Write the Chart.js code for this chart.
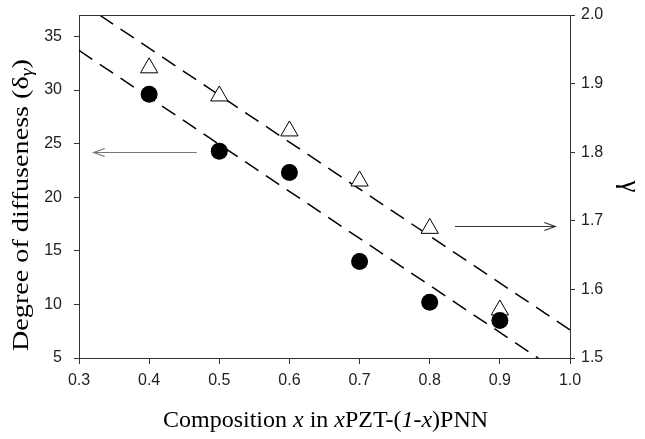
<!DOCTYPE html>
<html>
<head>
<meta charset="utf-8">
<script src="https://cdn.jsdelivr.net/npm/chart.js@4.4.0/dist/chart.umd.min.js"></script>
<style>
  html, body { margin: 0; padding: 0; background: #fff; }
  #wrap { width: 645px; height: 439px; }
</style>
</head>
<body>
<div id="wrap"><canvas id="diffChart"></canvas></div>
<script>
// composition x
const compX = [0.4, 0.5, 0.6, 0.7, 0.8, 0.9];
// degree of diffuseness (left axis)
const deltaGamma = [29.6, 24.3, 22.3, 14.0, 10.2, 8.5];
// gamma (right axis)
const gammaVals = [1.923, 1.882, 1.831, 1.758, 1.689, 1.570];

// dashed fit lines, read at the edges of the plot
const fitX = [0.3, 1.0];
const fitDelta = [33.7, 3.0];
const fitGamma = [2.02, 1.541];

const xTicks = [0.3, 0.4, 0.5, 0.6, 0.7, 0.8, 0.9, 1.0];
const leftTicks = [5, 10, 15, 20, 25, 30, 35];
const rightTicks = [1.5, 1.6, 1.7, 1.8, 1.9, 2.0];

// arrows (data units): [x from, x to, y, axis]
const arrowLeft = [0.468, 0.321, 24.25, 'yL'];
const arrowRight = [0.836, 0.979, 1.692, 'yR'];

const tickFont = { family: 'Liberation Sans, Arial, sans-serif', size: 16 };
const serif = 'Liberation Serif, Times New Roman, serif';

const toPts = (xs, ys) => xs.map((x, i) => ({ x: x, y: ys[i] }));

// fix the box sizes so the plot area sits where it does in the figure
const fixBox = (w, h) => s => {
    if (w !== null) s.width = w;
    if (h !== null) s.height = h;
    s.paddingTop = 0;
    s.paddingBottom = 0;
    s.paddingLeft = 0;
    s.paddingRight = 0;
};

// draws text made of [text, font, baseline shift] parts, centred on cx
function drawParts(ctx, parts, cx, y, stretchTo) {
    let total = 0;
    parts.forEach(p => {
        ctx.font = p[1];
        total += ctx.measureText(p[0]).width;
    });
    const sx = stretchTo ? stretchTo / total : 1;
    ctx.save();
    ctx.translate(cx, y);
    ctx.scale(sx, 1);
    let x = -total / 2;
    parts.forEach(p => {
        ctx.font = p[1];
        ctx.fillText(p[0], x, p[2]);
        x += ctx.measureText(p[0]).width;
    });
    ctx.restore();
}

const framePlugin = {
    id: 'frame',
    afterDatasetsDraw(chart) {
        const { ctx, chartArea: a, scales } = chart;
        ctx.save();
        ctx.strokeStyle = '#333';
        ctx.lineWidth = 1;
        ctx.beginPath();
        ctx.moveTo(a.left, a.top + 0.5);
        ctx.lineTo(a.right, a.top + 0.5);
        ctx.stroke();

        // arrows
        const drawArrow = (arr, color) => {
            const ys = scales[arr[3]];
            const x1 = scales.x.getPixelForValue(arr[0]);
            const x2 = scales.x.getPixelForValue(arr[1]);
            const y = Math.round(ys.getPixelForValue(arr[2])) + 0.5;
            const dir = x2 > x1 ? -1 : 1;
            ctx.strokeStyle = color;
            ctx.lineWidth = 1.2;
            ctx.beginPath();
            ctx.moveTo(x1, y);
            ctx.lineTo(x2, y);
            ctx.moveTo(x2 + dir * 11, y - 4);
            ctx.lineTo(x2, y);
            ctx.lineTo(x2 + dir * 11, y + 4);
            ctx.stroke();
        };
        drawArrow(arrowLeft, '#777');
        drawArrow(arrowRight, '#333');

        ctx.fillStyle = '#000';
        ctx.textBaseline = 'alphabetic';
        const up = '24px ' + serif;
        const it = 'italic 24px ' + serif;

        // x axis title with italic parts
        drawParts(ctx, [
            ['Composition ', up, 0], ['x', it, 0], [' in ', up, 0], ['x', it, 0],
            ['PZT-(', up, 0], ['1-x', it, 0], [')PNN', up, 0]
        ], (a.left + a.right) / 2 + 1, 427);

        // y axis title, rotated, with subscript gamma
        ctx.save();
        ctx.translate(28, 0);
        ctx.rotate(-Math.PI / 2);
        drawParts(ctx, [
            ['Degree of diffuseness (δ', up, 0],
            ['γ', 'italic 17px ' + serif, 4],
            [')', up, 0]
        ], -205, 0, 292);
        ctx.restore();

        ctx.restore();
    }
};

const ctx = document.getElementById('diffChart').getContext('2d');
new Chart(ctx, {
    type: 'scatter',
    data: {
        datasets: [
            {
                label: 'fit delta',
                data: toPts(fitX, fitDelta),
                yAxisID: 'yL',
                showLine: true,
                borderColor: '#000',
                borderWidth: 1.5,
                borderDash: [16, 9],
                pointRadius: 0,
                order: 3
            },
            {
                label: 'fit gamma',
                data: toPts(fitX, fitGamma),
                yAxisID: 'yR',
                showLine: true,
                borderColor: '#000',
                borderWidth: 1.5,
                borderDash: [16, 9],
                pointRadius: 0,
                order: 3
            },
            {
                label: 'delta gamma',
                data: toPts(compX, deltaGamma),
                yAxisID: 'yL',
                pointStyle: 'circle',
                pointRadius: 8.5,
                backgroundColor: '#000',
                borderColor: '#000',
                borderWidth: 0,
                order: 1
            },
            {
                label: 'gamma',
                data: toPts(compX, gammaVals),
                yAxisID: 'yR',
                pointStyle: 'triangle',
                pointRadius: 10,
                backgroundColor: '#fff',
                borderColor: '#000',
                borderWidth: 1,
                order: 2
            }
        ]
    },
    options: {
        responsive: true,
        maintainAspectRatio: false,
        animation: false,
        layout: { padding: { top: 15, left: 0, right: 0, bottom: 0 } },
        plugins: {
            legend: { display: false },
            tooltip: { enabled: false }
        },
        scales: {
            x: {
                type: 'linear',
                min: 0.3,
                max: 1.0,
                afterBuildTicks: s => { s.ticks = xTicks.map(v => ({ value: v })); },
                afterFit: fixBox(null, 81),
                grid: { drawOnChartArea: false, tickLength: 6, color: '#333' },
                border: { color: '#333' },
                ticks: {
                    font: tickFont,
                    color: '#222',
                    padding: 7,
                    maxRotation: 0,
                    callback: v => v.toFixed(1)
                }
            },
            yL: {
                type: 'linear',
                position: 'left',
                min: 5,
                max: 37,
                afterBuildTicks: s => { s.ticks = leftTicks.map(v => ({ value: v })); },
                afterFit: fixBox(79, null),
                grid: { drawOnChartArea: false, tickLength: 5, color: '#333' },
                border: { color: '#333' },
                ticks: { font: tickFont, color: '#222', padding: 12 }
            },
            yR: {
                type: 'linear',
                position: 'right',
                min: 1.5,
                max: 2.0,
                afterBuildTicks: s => { s.ticks = rightTicks.map(v => ({ value: v })); },
                afterFit: fixBox(75, null),
                grid: { drawOnChartArea: false, tickLength: 5, color: '#333' },
                border: { color: '#333' },
                ticks: { font: tickFont, color: '#222', padding: 6, callback: v => v.toFixed(1) },
                title: {
                    display: true,
                    text: 'γ',
                    font: { family: serif, size: 27 },
                    color: '#000',
                    padding: { top: 0, bottom: 0 }
                }
            }
        }
    },
    plugins: [framePlugin]
});
</script>
</body>
</html>
